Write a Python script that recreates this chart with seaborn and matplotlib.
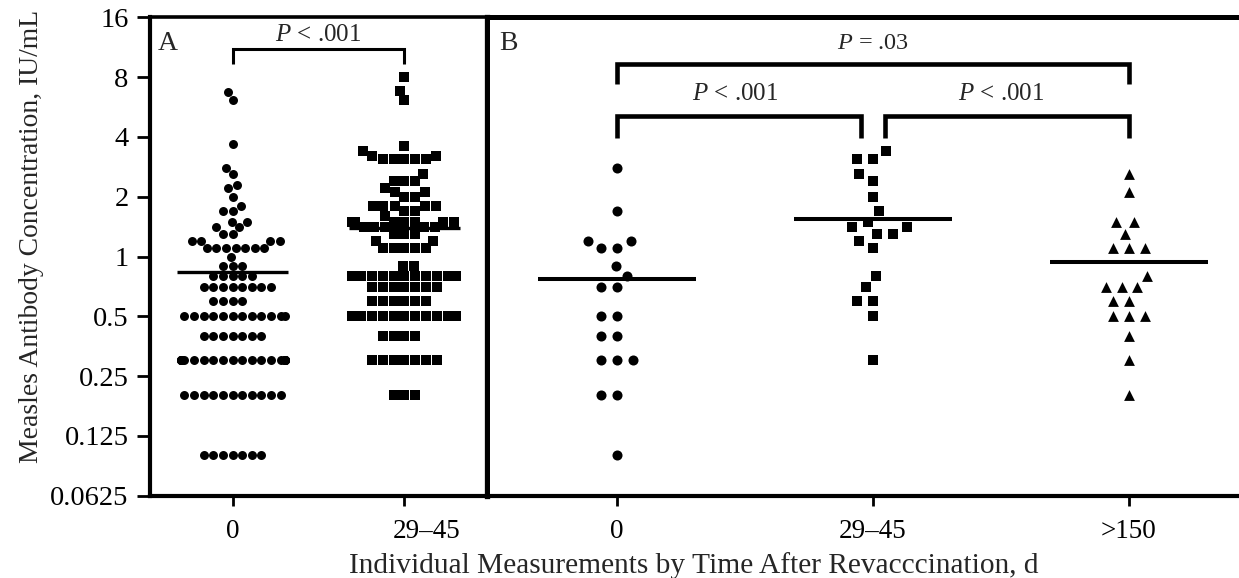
"""Measles antibody concentrations after revaccination, dot plots in two panels."""

import matplotlib

matplotlib.use("Agg")
import matplotlib.pyplot as plt
import numpy as np
import seaborn as sns
from matplotlib.markers import MarkerStyle
from matplotlib.ticker import FixedLocator, NullLocator
from matplotlib.transforms import Affine2D

# Panel A: every dot sits on a reported level, counts say how many share it
a_day0_levels = [6.7, 6.1, 3.7, 2.8, 2.6, 2.3, 2.2, 2.0, 1.8, 1.7, 1.5, 1.4, 1.3,
                 1.2, 1.1, 1.0, 0.9, 0.8, 0.7, 0.6, 0.5, 0.4, 0.3, 0.2, 0.1]
a_day0_counts = [1, 1, 1, 1, 1, 1, 1, 1, 1, 2, 2, 2, 2,
                 4, 7, 1, 3, 5, 8, 4, 12, 7, 20, 11, 7]
a_day29_levels = [8.0, 6.8, 6.1, 3.6, 3.4, 3.2, 3.1, 2.6, 2.4, 2.2, 2.1, 2.0, 1.8, 1.7,
                  1.6, 1.5, 1.4, 1.3, 1.2, 1.1, 0.9, 0.8, 0.7, 0.6, 0.5, 0.4, 0.3, 0.2]
a_day29_counts = [1, 1, 1, 1, 1, 2, 5, 1, 3, 1, 2, 2, 5, 2,
                  1, 7, 5, 3, 2, 5, 2, 18, 7, 6, 11, 4, 7, 3]
a_groups = ["0", "29\u201345"]
a_geomeans = [0.84, 1.39]

# Panel B: the 20 people followed to >150 days
b_day0 = [2.8, 1.7, 1.2, 1.2, 1.1, 1.1, 0.9, 0.8, 0.7, 0.7,
          0.5, 0.5, 0.4, 0.4, 0.3, 0.3, 0.3, 0.2, 0.2, 0.1]
b_day29 = [3.4, 3.1, 3.1, 2.6, 2.4, 2.0, 1.7, 1.5, 1.4, 1.4,
           1.3, 1.3, 1.2, 1.1, 0.8, 0.7, 0.6, 0.6, 0.5, 0.3]
b_day150 = [2.6, 2.1, 1.5, 1.5, 1.3, 1.1, 1.1, 1.1, 0.8, 0.7,
            0.7, 0.7, 0.6, 0.6, 0.5, 0.5, 0.5, 0.4, 0.3, 0.2]
b_groups = ["0", "29\u201345", ">150"]
b_geomeans = [0.77, 1.54, 0.94]

y_ticks = [0.0625, 0.125, 0.25, 0.5, 1, 2, 4, 8, 16]
y_ticklabels = ["0.0625", "0.125", "0.25", "0.5", "1", "2", "4", "8", "16"]

# layout (pixels of a 1239x578 canvas)
W, H = 1239, 578
A_GAP = 1.323          # panel A columns sit closer so the swarm rows stay narrow
a_pos = np.arange(len(a_groups)) * A_GAP
a_label_shift = np.array([0.0, 0.17])   # "29-45" label sits right of its column
b_pos = np.arange(len(b_groups)) * 1.0

sns.set_style("white")
plt.rcParams["font.family"] = ["Liberation Serif", "DejaVu Serif"]
plt.rcParams["mathtext.fontset"] = "custom"
plt.rcParams["mathtext.rm"] = "Liberation Serif"
plt.rcParams["mathtext.it"] = "Liberation Serif:italic"

fig = plt.figure(figsize=(W / 100, H / 100), dpi=100)
bottom, height = 82.3 / H, 478.4 / H
ax_a = fig.add_axes([150 / W, bottom, 337 / W, height])
ax_b = fig.add_axes([487 / W, bottom, 752 / W, height])

for ax in (ax_a, ax_b):
    ax.set_yscale("log", base=2)
    ax.set_ylim(y_ticks[0], y_ticks[-1])
ax_a.set_xlim(-0.635, 1.958)
ax_b.set_xlim(-0.508, 2.43)


def dot_column(ax, values, pos, marker, size, shrink):
    sns.swarmplot(
        x=np.full(len(values), pos),
        y=values,
        native_scale=True,
        orient="x",
        color="black",
        size=size,
        marker=MarkerStyle(marker, transform=Affine2D().scale(shrink)),
        linewidth=0,
        warn_thresh=1.0,
        ax=ax,
    )


def bracket(ax, x0, x1, y_top, y_foot, lw):
    ax.plot([x0, x0, x1, x1], [y_foot, y_top, y_top, y_foot], color="black", lw=lw,
            transform=ax.get_xaxis_transform(), clip_on=False,
            solid_joinstyle="miter", solid_capstyle="butt")


# panel A
dot_column(ax_a, np.repeat(a_day0_levels, a_day0_counts), a_pos[0], "o", 6.6, 0.98)
dot_column(ax_a, np.repeat(a_day29_levels, a_day29_counts), a_pos[1], "s", 7.4, 0.88)
ax_a.hlines(a_geomeans, a_pos - 0.43, a_pos + 0.43, colors="black", lw=2.4, zorder=4)

# panel B
b_markers = ["o", "s", "^"]
b_shrink = [0.67, 0.63, 0.72]
for pos, vals, mk, sh in zip(b_pos, [b_day0, b_day29, b_day150], b_markers, b_shrink):
    dot_column(ax_b, vals, pos, mk, 10.8, sh)
ax_b.hlines(b_geomeans, b_pos - 0.31, b_pos + 0.31, colors="black", lw=2.9, zorder=4)

ax_a.set_xlim(-0.635, 1.958)
ax_b.set_xlim(-0.508, 2.43)
for ax in (ax_a, ax_b):
    ax.set_ylim(y_ticks[0], y_ticks[-1])

# axes, ticks
ax_a.yaxis.set_major_locator(FixedLocator(y_ticks))
ax_a.yaxis.set_minor_locator(NullLocator())
ax_a.set_yticklabels(y_ticklabels)
ax_b.yaxis.set_minor_locator(NullLocator())
ax_a.tick_params(axis="y", left=True, direction="out", length=9.4, width=2,
                 labelsize=20.5, pad=6, colors="black")
ax_b.tick_params(axis="y", left=False, labelleft=False)

# tick marks under the columns, labels on minor ticks so they can sit off-centre
ax_a.xaxis.remove_overlapping_locs = False
ax_a.set_xticks(a_pos)
ax_a.set_xticklabels([])
ax_a.set_xticks(a_pos + a_label_shift, minor=True)
ax_a.set_xticklabels(a_groups, minor=True)
ax_b.set_xticks(b_pos)
ax_b.set_xticklabels(b_groups)
for ax in (ax_a, ax_b):
    ax.tick_params(axis="x", which="major", bottom=True, direction="out", length=7,
                   width=2, labelsize=19.5, pad=10, colors="black")
ax_a.tick_params(axis="x", which="minor", bottom=True, length=0, labelsize=19.5,
                 pad=17, colors="black")

for side in ("left", "bottom", "top", "right"):
    ax_a.spines[side].set_linewidth(3.0)
    ax_a.spines[side].set_color("black")
ax_a.spines["top"].set_linewidth(2.6)
ax_a.spines["right"].set_linewidth(3.8)
for side in ("left", "bottom", "top"):
    ax_b.spines[side].set_linewidth(3.6)
    ax_b.spines[side].set_color("black")
ax_b.spines["bottom"].set_linewidth(3.0)
ax_b.spines["right"].set_visible(False)

# panel letters
ax_a.text(0.024, 0.9317, "A", transform=ax_a.transAxes, fontsize=20,
          ha="left", va="baseline")
ax_b.text(0.016, 0.9317, "B", transform=ax_b.transAxes, fontsize=20,
          ha="left", va="baseline")

# significance brackets
bracket(ax_a, a_pos[0], a_pos[1], 0.9331, 0.9018, 2.2)
ax_a.text(a_pos.mean(), 0.9505, "$P$ < .001", transform=ax_a.get_xaxis_transform(),
          fontsize=18, ha="center", va="baseline")

bracket(ax_b, b_pos[0], b_pos[2], 0.9024, 0.8606, 3.3)
ax_b.text(b_pos[1], 0.9337, "$P$ = .03", transform=ax_b.get_xaxis_transform(),
          fontsize=17.5, ha="center", va="baseline")
bracket(ax_b, b_pos[0], b_pos[1] - 0.047, 0.7946, 0.7487, 3.3)
bracket(ax_b, b_pos[1] + 0.047, b_pos[2], 0.7946, 0.7487, 3.3)
ax_b.text((b_pos[0] + b_pos[1]) / 2 - 0.04, 0.8271, "$P$ < .001",
          transform=ax_b.get_xaxis_transform(), fontsize=18, ha="center", va="baseline")
ax_b.text((b_pos[1] + b_pos[2]) / 2, 0.8271, "$P$ < .001",
          transform=ax_b.get_xaxis_transform(), fontsize=18, ha="center", va="baseline")

# axis titles
fig.text(32 / W, 1 - 236.5 / H, "Measles Antibody Concentration, IU/mL", rotation=90,
         ha="center", va="center", fontsize=19.9)
fig.text(694 / W, 1 - 566 / H, "Individual Measurements by Time After Revacccination, d",
         ha="center", va="center", fontsize=21.2)

fig.savefig("out.png", dpi=100, facecolor="white")
plt.close(fig)
